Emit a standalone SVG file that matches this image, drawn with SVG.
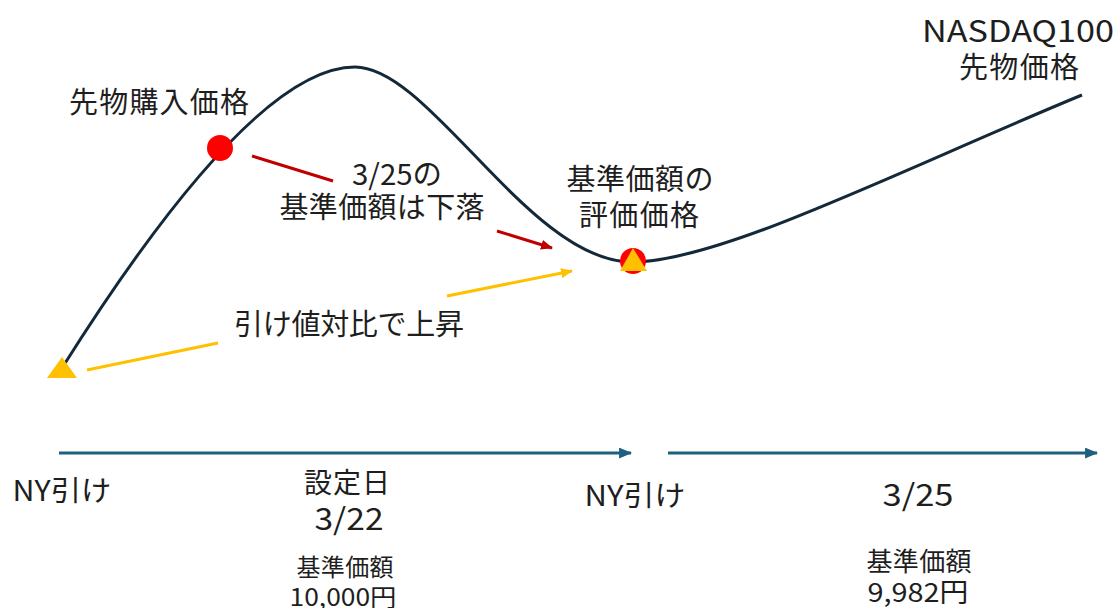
<svg xmlns="http://www.w3.org/2000/svg" width="1116" height="608" viewBox="0 0 1116 608">
<style>
text{font-family:"Noto Sans CJK JP","Noto Sans",sans-serif;fill:#1e1e1e;text-anchor:middle}
.l{font-size:29px}
.s{font-size:24px}
.g{lengthAdjust:spacingAndGlyphs}
.curve{fill:none;stroke:#13293a;stroke-width:3}
.red{stroke:#c00000;stroke-width:3;fill:none}
.yel{stroke:#ffc000;stroke-width:3;fill:none}
.tl{stroke:#1f6080;stroke-width:3;fill:none}
</style>
<defs>
<marker id="mRed" viewBox="0 0 12 10" refX="11" refY="5" markerWidth="12" markerHeight="10" markerUnits="userSpaceOnUse" orient="auto"><path d="M0,0 L12,5 L0,10 Z" fill="#c00000"/></marker>
<marker id="mYel" viewBox="0 0 12 10" refX="11" refY="5" markerWidth="12" markerHeight="10" markerUnits="userSpaceOnUse" orient="auto"><path d="M0,0 L12,5 L0,10 Z" fill="#ffc000"/></marker>
<marker id="mTl" viewBox="0 0 12 10" refX="11" refY="5" markerWidth="13" markerHeight="11" markerUnits="userSpaceOnUse" orient="auto"><path d="M0,0 L12,5 L0,10 Z" fill="#1f6080"/></marker>
</defs>
<g id="price-curve">
<path class="curve" d="M62,368 C130,260 260,67 355,67 C430,67 530,262 632,262 C720,262 900,170 1082,95"/>
</g>
<g id="connectors">
<line class="red" x1="252" y1="156" x2="333" y2="181"/>
<line class="red" x1="497" y1="231" x2="552" y2="248" marker-end="url(#mRed)"/>
<line class="yel" x1="87" y1="370" x2="218" y2="343"/>
<line class="yel" x1="447" y1="296" x2="572" y2="271" marker-end="url(#mYel)"/>
<line class="tl" x1="59" y1="453" x2="631" y2="453" marker-end="url(#mTl)"/>
<line class="tl" x1="668" y1="453" x2="1097" y2="453" marker-end="url(#mTl)"/>
</g>
<g id="purchase-point">
<circle cx="220" cy="148" r="13" fill="#ff0000"/>
</g>
<g id="start-point">
<polygon points="47,378 77,378 62,357" fill="#ffc000"/>
</g>
<g id="eval-point">
<circle cx="633" cy="261" r="13" fill="#ff0000"/>
<polygon points="620,271 647,271 633,248" fill="#ffc000"/>
</g>
<g id="label-purchase"><text class="l" x="159" y="113" font-size="30" textLength="180">先物購入価格</text></g>
<g id="label-drop">
<text class="l" x="397" y="185" textLength="90" lengthAdjust="spacingAndGlyphs">3/25の</text>
<text class="l" x="382" y="218" textLength="205">基準価額は下落</text>
</g>
<g id="label-rise"><text class="l" x="349" y="335" textLength="230">引け値対比で上昇</text></g>
<g id="label-eval">
<text class="l" x="640" y="190" textLength="147">基準価額の</text>
<text class="l" x="639" y="226" textLength="120">評価価格</text>
</g>
<g id="label-nasdaq">
<text x="1018" y="42" font-size="30" textLength="192" lengthAdjust="spacingAndGlyphs">NASDAQ100</text>
<text class="l" x="1019" y="78" textLength="120">先物価格</text>
</g>
<g id="label-ny1"><text x="62" y="501" font-size="28" textLength="99" lengthAdjust="spacingAndGlyphs">NY引け</text></g>
<g id="label-day1">
<text x="347" y="493" font-size="28" textLength="86">設定日</text>
<text x="349" y="530" font-size="30" textLength="69" lengthAdjust="spacingAndGlyphs">3/22</text>
</g>
<g id="label-nav1">
<text class="s" x="345" y="576" textLength="97">基準価額</text>
<text class="s" x="343" y="606" textLength="107" lengthAdjust="spacingAndGlyphs">10,000円</text>
</g>
<g id="label-ny2"><text x="635" y="506" font-size="28" textLength="101" lengthAdjust="spacingAndGlyphs">NY引け</text></g>
<g id="label-day2"><text x="918" y="506" font-size="30" textLength="71" lengthAdjust="spacingAndGlyphs">3/25</text></g>
<g id="label-nav2">
<text x="919" y="571" font-size="26" textLength="105">基準価額</text>
<text x="918" y="602" font-size="26" textLength="101" lengthAdjust="spacingAndGlyphs">9,982円</text>
</g>
</svg>
